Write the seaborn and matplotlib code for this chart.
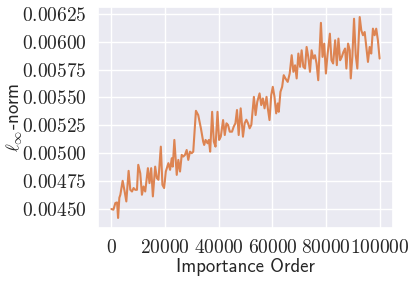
import numpy as np
import pandas as pd
import seaborn as sns
import matplotlib
matplotlib.use("Agg")
import matplotlib.pyplot as plt
from matplotlib.ticker import FuncFormatter, MultipleLocator

# importance order of each checkpoint and the measured l-inf norm
order = [
    0, 741, 1481, 2111, 2481, 2963, 3333, 4185, 4926, 5556,
    6407, 7037, 7667, 8259, 8889, 9519, 10000, 10741, 11370, 11963,
    12593, 13593, 14185, 14815, 15444, 16296, 16926, 17519, 18407, 19000,
    19630, 20259, 21222, 21852, 22481, 22852, 23444, 24333, 24926, 25556,
    26185, 26778, 27407, 28037, 28630, 29259, 29889, 30481, 31481, 32333,
    33333, 34185, 34556, 35074, 35815, 36296, 36778, 37519, 38148, 38778,
    39519, 40111, 40741, 41593, 42222, 42852, 43444, 44074, 44926, 45556,
    46185, 46778, 47407, 48148, 49000, 49630, 50259, 50889, 51481, 52111,
    53074, 53704, 54333, 55185, 55815, 56407, 57037, 57778, 58259, 58889,
    59519, 60111, 60741, 61370, 61963, 62333, 62963, 63593, 64185, 64815,
    65667, 66407, 67148, 67778, 68407, 69000, 69630, 70259, 70852, 71481,
    72111, 72704, 73333, 73963, 74556, 75185, 75815, 76407, 77037, 78037,
    78630, 79259, 79889, 80481, 81370, 81963, 82593, 83333, 83963, 84556,
    85185, 85815, 86407, 87037, 87519, 88148, 88778, 89148, 89741, 90370,
    91000, 91593, 92481, 93074, 93704, 94333, 94926, 95556, 96185, 96778,
    97407, 98037, 98630, 99259, 99889,
]
linf = [
    0.004500, 0.004494, 0.004554, 0.004559, 0.004420, 0.004601, 0.004628, 0.004753, 0.004657, 0.004568,
    0.004842, 0.004672, 0.004657, 0.004688, 0.004672, 0.004672, 0.004896, 0.004821, 0.004628, 0.004702,
    0.004657, 0.004866, 0.004732, 0.004866, 0.004613, 0.004880, 0.004777, 0.004762, 0.005059, 0.004717,
    0.004688, 0.004836, 0.004911, 0.004851, 0.004955, 0.004880, 0.005119, 0.004806, 0.004940, 0.004836,
    0.004985, 0.004970, 0.004985, 0.005029, 0.004940, 0.005014, 0.005000, 0.005014, 0.005380, 0.005342,
    0.005223, 0.005104, 0.005074, 0.005119, 0.005089, 0.005119, 0.005014, 0.005371, 0.005104, 0.005059,
    0.005371, 0.005119, 0.005148, 0.005297, 0.005163, 0.005268, 0.005253, 0.005193, 0.005193, 0.005238,
    0.005268, 0.005387, 0.005163, 0.005402, 0.005148, 0.005268, 0.005300, 0.005268, 0.005223, 0.005253,
    0.005505, 0.005342, 0.005461, 0.005536, 0.005431, 0.005491, 0.005402, 0.005505, 0.005402, 0.005297,
    0.005520, 0.005595, 0.005505, 0.005357, 0.005446, 0.005371, 0.005550, 0.005595, 0.005699, 0.005670,
    0.005639, 0.005714, 0.005878, 0.005729, 0.005788, 0.005670, 0.005893, 0.005774, 0.005922, 0.005774,
    0.005759, 0.005952, 0.005863, 0.005729, 0.005922, 0.005848, 0.005878, 0.005804, 0.005654, 0.006168,
    0.005863, 0.005982, 0.005714, 0.005878, 0.006071, 0.005833, 0.005804, 0.006012, 0.005789, 0.006027,
    0.005833, 0.005863, 0.005907, 0.005938, 0.005759, 0.005982, 0.005922, 0.005670, 0.005863, 0.006205,
    0.005878, 0.005759, 0.006220, 0.006101, 0.006057, 0.006086, 0.005952, 0.005818, 0.005952, 0.005893,
    0.006116, 0.006057, 0.006116, 0.006012, 0.005848,
]

df = pd.DataFrame({"Importance Order": order, "linf": linf})

sns.set_theme(style="darkgrid")
plt.rcParams["mathtext.fontset"] = "cm"
plt.rcParams["font.family"] = ["cmss10", "DejaVu Sans"]
plt.rcParams["axes.unicode_minus"] = False

fig, ax = plt.subplots(figsize=(4.15, 2.82), dpi=100)
sns.lineplot(data=df, x="Importance Order", y="linf", ax=ax,
             color=sns.color_palette("deep")[1], linewidth=1.5)

ax.yaxis.set_major_locator(MultipleLocator(0.00025))
ax.xaxis.set_major_locator(MultipleLocator(20000))
ax.xaxis.set_major_formatter(FuncFormatter(lambda v, p: f"${v:.0f}$"))
ax.yaxis.set_major_formatter(FuncFormatter(lambda v, p: f"${v:.5f}$"))
ax.tick_params(labelsize=14, pad=2)

ax.set_xlabel("Importance Order", fontsize=13.5, labelpad=1)
ax.set_ylabel(r"$\ell_\infty$-norm", fontsize=13.5, labelpad=-2)

fig.subplots_adjust(left=98 / 415, right=393 / 415, top=1 - 7 / 282, bottom=1 - 228 / 282)
fig.savefig("out.png", dpi=100)
